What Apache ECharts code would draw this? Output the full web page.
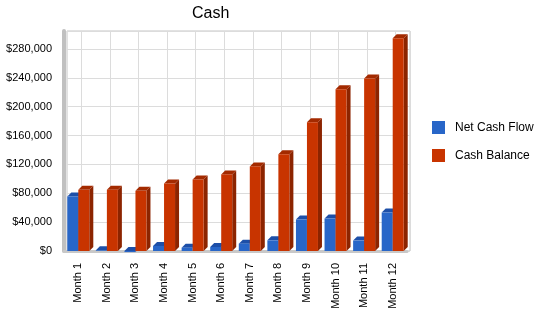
<!DOCTYPE html>
<html>
<head>
<meta charset="utf-8">
<script src="https://cdn.jsdelivr.net/npm/echarts@6/dist/echarts.min.js"></script>
<style>
    html, body { margin: 0; padding: 0; background: #fff; }
    #chart { width: 550px; height: 318px; }
</style>
</head>
<body>
<div id="chart"></div>
<script>
const months = ['Month 1', 'Month 2', 'Month 3', 'Month 4', 'Month 5', 'Month 6',
    'Month 7', 'Month 8', 'Month 9', 'Month 10', 'Month 11', 'Month 12'];
const netCashFlow = [75600, 1000, -1500, 7000, 4600, 5600, 10200, 14800, 43600, 45000, 14400, 53300];
const cashBalance = [84800, 85000, 83400, 93600, 99200, 106200, 117300, 134000, 178500, 224400, 239200, 294800];
const yTicks = [0, 40000, 80000, 120000, 160000, 200000, 240000, 280000];

const font = '"Liberation Sans", Arial, sans-serif';
const depth = 4;

// back wall uses half-month slots so its vertical lines fall on month centres
const halfSlots = months.flatMap(m => [m + ' a', m + ' b']);

// 3D-ish bar: front face, top and right side, shifted by column slot
const bar3d = (slot, front, top, side) => (params, api) => {
    const i = api.value(0);
    const hi = api.coord([i, api.value(1)]);
    const lo = api.coord([i, 0]);
    const w = api.size([1, 0])[0] * 0.385;
    const x = hi[0] + (slot === 0 ? -w : 0);
    const yTop = Math.min(hi[1], lo[1]);
    const yBot = Math.max(hi[1], lo[1]);
    return {
        type: 'group',
        children: [
            { type: 'polygon', shape: { points: [[x + w, yTop], [x + w + depth, yTop - depth], [x + w + depth, yBot - depth], [x + w, yBot]] }, style: { fill: side } },
            { type: 'polygon', shape: { points: [[x, yTop], [x + depth, yTop - depth], [x + w + depth, yTop - depth], [x + w, yTop]] }, style: { fill: top } },
            { type: 'rect', shape: { x: x, y: yTop, width: w, height: yBot - yTop }, style: { fill: front } }
        ]
    };
};

const chart = echarts.init(document.getElementById('chart'));
chart.setOption({
    animation: false,
    title: {
        text: 'Cash', left: 187, top: 1,
        textStyle: { fontFamily: font, fontSize: 16, fontWeight: 'normal', color: '#000' }
    },
    legend: {
        orient: 'vertical', left: 427, top: 116, itemGap: 15,
        itemWidth: 13, itemHeight: 13, icon: 'rect',
        textStyle: { fontFamily: font, fontSize: 12, color: '#000', padding: [0, 0, 0, 5] },
        data: ['Net Cash Flow', 'Cash Balance']
    },
    grid: [
        { left: 67, right: 140, top: 31, bottom: 67, show: true, borderColor: '#c4c4c4', borderWidth: 1 },
        { left: 64, right: 143, top: 31, bottom: 67 }
    ],
    xAxis: [
        {
            gridIndex: 0, type: 'category', data: halfSlots,
            axisLine: { show: false }, axisTick: { show: false }, axisLabel: { show: false },
            splitLine: { show: true, interval: i => i % 2 === 1, lineStyle: { color: '#dcdcdc' } }
        },
        {
            gridIndex: 1, type: 'category', data: months,
            axisLine: { lineStyle: { color: '#c8c8c8', width: 3 } },
            axisTick: { alignWithLabel: true, interval: 0, length: 6, lineStyle: { color: '#c8c8c8' } },
            axisLabel: { rotate: 90, interval: 0, margin: 12, fontFamily: font, fontSize: 11, color: '#000' }
        }
    ],
    yAxis: [
        {
            gridIndex: 0, type: 'value', min: 0, max: 305000, interval: 40000,
            axisLine: { show: false }, axisTick: { show: false },
            axisLabel: {
                margin: 15, showMaxLabel: false, fontFamily: font, fontSize: 11, color: '#000',
                formatter: v => yTicks.includes(v) ? '$' + v.toLocaleString('en-US') : ''
            },
            splitLine: { lineStyle: { color: '#dcdcdc' } }
        },
        {
            gridIndex: 1, type: 'value', min: 0, max: 305000, interval: 40000,
            axisLine: { show: true, lineStyle: { color: '#c0c0c0', width: 4 } },
            axisTick: { show: false }, axisLabel: { show: false }, splitLine: { show: false }
        }
    ],
    series: [
        {
            name: 'Net Cash Flow', type: 'custom', xAxisIndex: 1, yAxisIndex: 1,
            itemStyle: { color: '#2866c8' },
            renderItem: bar3d(0, '#2866c8', '#1d4fa8', '#174192'),
            encode: { x: 0, y: 1 },
            data: netCashFlow.map((v, i) => [i, v])
        },
        {
            name: 'Cash Balance', type: 'custom', xAxisIndex: 1, yAxisIndex: 1,
            itemStyle: { color: '#c83400' },
            renderItem: bar3d(1, '#c83400', '#a32a00', '#8c2400'),
            encode: { x: 0, y: 1 },
            data: cashBalance.map((v, i) => [i, v])
        }
    ]
});
</script>
</body>
</html>
